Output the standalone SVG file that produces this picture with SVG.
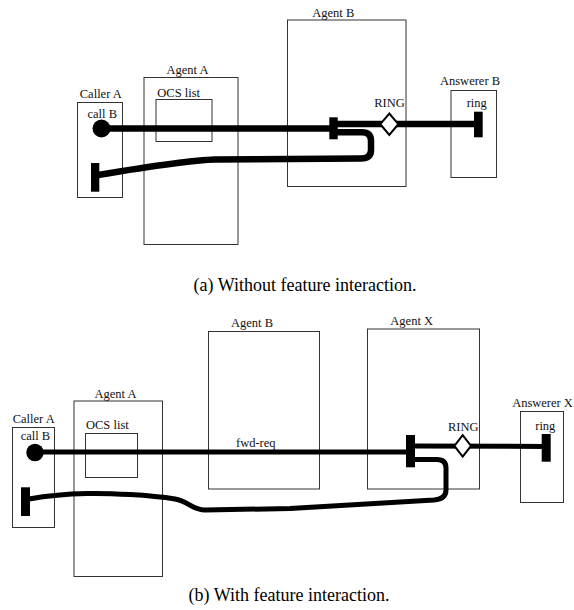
<svg xmlns="http://www.w3.org/2000/svg" width="574" height="610" viewBox="0 0 574 610">
<style>
.box{fill:none;stroke:#333;stroke-width:1}
.lbl{font-family:"Liberation Serif","Times New Roman",serif;font-size:12.5px;fill:#111}
.mid{text-anchor:middle}
.cap{font-family:"Liberation Serif","Times New Roman",serif;font-size:18px;fill:#000;text-anchor:middle}
.wire{fill:none;stroke:#000;stroke-linejoin:round;stroke-linecap:butt}
.w1{stroke-width:6.5}
.w2{stroke-width:5}
.bar{fill:#000}
.dia{fill:#fff;stroke:#000;stroke-width:2}
</style>
<rect width="574" height="610" fill="#fff"/>
<!-- Diagram (a) -->
<g id="a-callerA"><rect class="box" x="77.5" y="102.5" width="45" height="95"/><text class="lbl mid" x="100.8" y="97.5">Caller A</text><text class="lbl" x="87.5" y="118">call B</text></g>
<g id="a-agentA"><rect class="box" x="144" y="77.5" width="94" height="167"/><text class="lbl mid" x="187.5" y="74">Agent A</text></g>
<g id="a-ocs"><rect class="box" x="156" y="99.5" width="56" height="42"/><text class="lbl" x="157.3" y="96.7">OCS list</text></g>
<g id="a-agentB"><rect class="box" x="287.5" y="20" width="118.5" height="166.5"/><text class="lbl mid" x="333.3" y="16.7">Agent B</text></g>
<g id="a-answererB"><rect class="box" x="451" y="90.5" width="45.5" height="87"/><text class="lbl mid" x="470" y="85">Answerer B</text><text class="lbl mid" x="476.7" y="106.7">ring</text></g>
<g id="a-connectors">
<path class="wire w1" d="M101.5 128.5 L330 128.5"/>
<path class="wire w1" d="M337 124 L479 124"/>
<path class="wire w1" d="M337 132.3 L362 132.3 Q371 132.3 371 141 L371 150 Q371 158.5 361 158.5 L215 159.5 C190 160 140 168 98 175"/>
<circle class="bar" cx="101.5" cy="128.5" r="9"/>
<rect class="bar" x="329.3" y="117.3" width="8.4" height="22"/>
<rect class="bar" x="474" y="111.7" width="8.7" height="25.6"/>
<rect class="bar" x="91" y="163" width="8.3" height="28.7"/>
<polygon class="dia" points="389.3,113.5 398.3,124.2 389.3,135 380.3,124.2"/>
<text class="lbl mid" x="389.5" y="106.7">RING</text>
</g>
<text class="cap" x="305" y="290.7">(a) Without feature interaction.</text>
<!-- Diagram (b) -->
<g id="b-callerA"><rect class="box" x="12.5" y="427.5" width="42" height="100"/><text class="lbl mid" x="33.7" y="422.7">Caller A</text><text class="lbl" x="20.7" y="439.5">call B</text></g>
<g id="b-agentA"><rect class="box" x="74" y="401" width="88.5" height="175.5"/><text class="lbl mid" x="115.5" y="397.7">Agent A</text></g>
<g id="b-ocs"><rect class="box" x="85.5" y="433.5" width="52" height="44"/><text class="lbl" x="86" y="429.3">OCS list</text></g>
<g id="b-agentB"><rect class="box" x="208.5" y="331.5" width="111" height="157.5"/><text class="lbl mid" x="252" y="327.3">Agent B</text></g>
<g id="b-agentX"><rect class="box" x="367.5" y="329" width="112" height="160"/><text class="lbl mid" x="411.7" y="325">Agent X</text></g>
<g id="b-answererX"><rect class="box" x="520.5" y="411.5" width="43" height="91"/><text class="lbl mid" x="542.5" y="406.7">Answerer X</text><text class="lbl mid" x="545.3" y="429.5">ring</text></g>
<g id="b-connectors">
<path class="wire w2" d="M35 452 L407 452"/>
<text class="lbl" x="236" y="446.7">fwd-req</text>
<path class="wire w2" d="M414 446 L547 446.5"/>
<path class="wire w2" d="M414 459.5 L437 459.5 Q446 459.5 446 468 L446 490 Q446 499 434 500 L290 508.5 L205 510 C192 510 188 501 175 499 C150 495 110 493 87 493.5 C60 494 40 497 29 499"/>
<circle class="bar" cx="35" cy="452.5" r="8.7"/>
<rect class="bar" x="406" y="435" width="9" height="32.3"/>
<rect class="bar" x="541.7" y="434" width="9" height="27.7"/>
<rect class="bar" x="21" y="487.3" width="9" height="28.7"/>
<polygon class="dia" points="462.7,435.2 471,445.9 462.7,456.6 454.4,445.9"/>
<text class="lbl mid" x="463.3" y="430.7">RING</text>
</g>
<text class="cap" x="289" y="600.7">(b) With feature interaction.</text>
</svg>
